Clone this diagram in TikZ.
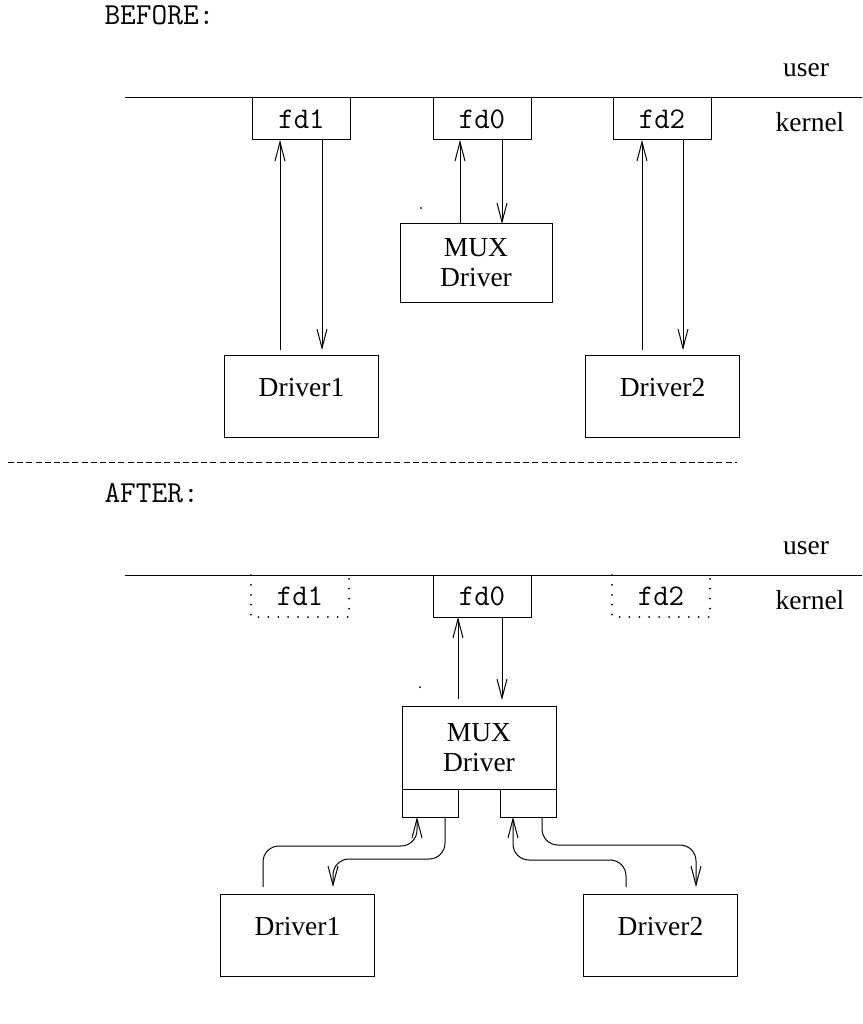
\documentclass[tikz,border=0pt]{standalone}
\usepackage{fontspec}
\setmainfont{Liberation Serif}
\usetikzlibrary{arrows.meta,calc}

\begin{document}
\begin{tikzpicture}[x=1pt,y=-1pt,
  line width=1pt,
  box/.style={draw, rectangle, inner sep=0pt, outer sep=0pt},
  fdbox/.style={box, minimum width=98pt, minimum height=42pt,
                font=\fontsize{30}{30}\selectfont\ttfamily},
  fdghost/.style={rectangle, inner sep=0pt, outer sep=0pt,
                  minimum width=98pt, minimum height=42pt,
                  font=\fontsize{30}{30}\selectfont\ttfamily},
  drvbox/.style={box, minimum width=154pt, minimum height=82pt,
                 text height=18pt, text depth=18pt,
                 font=\fontsize{27.5}{30}\selectfont},
  muxbox/.style={box, align=center, font=\fontsize{27.5}{30}\selectfont},
  subbox/.style={box, minimum width=56pt, minimum height=28pt},
  lbl/.style={font=\fontsize{27.5}{30}\selectfont, inner sep=0pt, anchor=base},
  mono/.style={font=\fontsize{30.5}{30.5}\selectfont\ttfamily, inner sep=0pt, anchor=base west},
  arr/.style={-{Straight Barb[length=19pt,width=10pt]}},
  dotline/.style={line width=2pt, dash pattern=on 0pt off 9.9pt, line cap=round},
]
\useasboundingbox (0,0) rectangle (862,1024);

% ---------------- first layout ----------------
\node[mono] (tb) at (104,25) {BEFORE:};
\node[lbl] (ub) at (806,77) {user};
\node[lbl] (kb) at (810,132) {kernel};
\draw (125,98) -- (862,98);

\node[fdbox] (fd1b) at (301.5,119) {fd1};
\node[fdbox] (fd0b) at (482,119) {fd0};
\node[fdbox] (fd2b) at (662,119) {fd2};

\node[muxbox, minimum width=152pt, minimum height=78pt] (muxb) at (476,263) {MUX\\Driver};
\node[drvbox] (d1b) at (301.5,396) {Driver1};
\node[drvbox] (d2b) at (662.5,396) {Driver2};

\fill (421,208) circle (1pt);

\coordinate (a1) at ([xshift=-21.5pt]fd1b.south);
\coordinate (b1) at ([xshift=20.5pt]fd1b.south);
\draw[arr, shorten <=5pt] (a1 |- d1b.north) -- (a1);
\draw[arr, shorten >=5pt] (b1) -- (b1 |- d1b.north);

\coordinate (a0) at ([xshift=-22pt]fd0b.south);
\coordinate (b0) at ([xshift=20pt]fd0b.south);
\draw[arr] (a0 |- muxb.north) -- (a0);
\draw[arr] (b0) -- (b0 |- muxb.north);

\coordinate (a2) at ([xshift=-20pt]fd2b.south);
\coordinate (b2) at ([xshift=21pt]fd2b.south);
\draw[arr, shorten <=5pt] (a2 |- d2b.north) -- (a2);
\draw[arr, shorten >=5pt] (b2) -- (b2 |- d2b.north);

% ---------------- separator ----------------
\draw[dash pattern=on 6pt off 3.2pt] (8,462) -- (737,462);

% ---------------- second layout ----------------
\node[mono] (ta) at (104,502) {AFTER:};
\node[lbl] (ua) at (806,554) {user};
\node[lbl] (ka) at (810,609) {kernel};
\draw (125,575) -- (862,575);

\node[fdghost] (fd1a) at (300,596) {fd1};
\node[fdbox] (fd0a) at (482,596) {fd0};
\node[fdghost] (fd2a) at (661,596) {fd2};
\draw[dotline] (fd1a.north west) -- (fd1a.south west) -- (fd1a.south east) -- (fd1a.north east);
\draw[dotline] (fd2a.north west) -- (fd2a.south west) -- (fd2a.south east) -- (fd2a.north east);

\node[muxbox, minimum width=154pt, minimum height=83pt] (muxa) at (479,747.5) {MUX\\Driver};
\node[subbox] (subL) at (430,803) {};
\node[subbox] (subR) at (528,803) {};
\node[drvbox] (d1a) at (297.5,935) {Driver1};
\node[drvbox] (d2a) at (660.5,935) {Driver2};

\fill (420,687) circle (1pt);

\coordinate (a0a) at ([xshift=-24pt]fd0a.south);
\coordinate (b0a) at ([xshift=20pt]fd0a.south);
\draw[arr, shorten <=7pt] (a0a |- muxa.north) -- (a0a);
\draw[arr, shorten >=6pt] (b0a) -- (b0a |- muxa.north);

% links between the drivers and the multiplexer's lower ports
\coordinate (l1) at ([xshift=-34.5pt,yshift=7pt]d1a.north);
\coordinate (l2) at ([xshift=-13pt]subL.south);
\coordinate (h1) at ([yshift=-29pt]l2);
\draw[arr, rounded corners=16pt] (l1) -- (l1 |- h1) -- (h1) -- (l2);

\coordinate (l3) at ([xshift=15pt]subL.south);
\coordinate (l4) at ([xshift=35.5pt,yshift=7pt]d1a.north);
\coordinate (h2) at ([yshift=-42pt]l3);
\draw[arr, rounded corners=16pt] (l3) -- (h2) -- (h2 -| l4) -- (l4);

\coordinate (r1) at ([xshift=-34.5pt,yshift=7pt]d2a.north);
\coordinate (r2) at ([xshift=-15pt]subR.south);
\coordinate (h3) at ([yshift=-43pt]r2);
\draw[arr, rounded corners=16pt] (r1) -- (r1 |- h3) -- (h3) -- (r2);

\coordinate (r3) at ([xshift=14pt]subR.south);
\coordinate (r4) at ([xshift=35.5pt,yshift=7pt]d2a.north);
\coordinate (h4) at ([yshift=-28pt]r3);
\draw[arr, rounded corners=16pt] (r3) -- (h4) -- (h4 -| r4) -- (r4);
\end{tikzpicture}
\end{document}
